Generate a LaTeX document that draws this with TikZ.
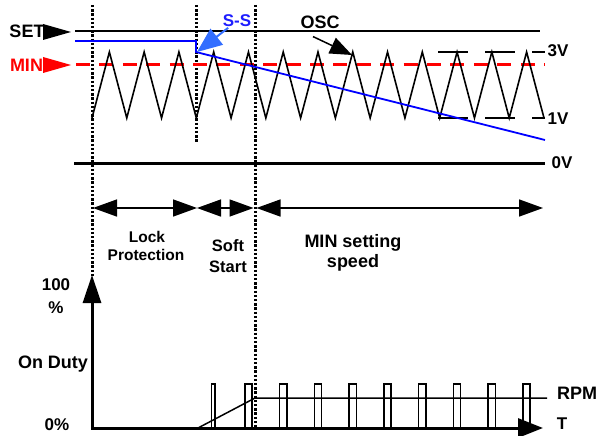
\documentclass[tikz,border=0pt]{standalone}
\usepackage{fontspec}
\setmainfont{Liberation Sans}
\usetikzlibrary{arrows.meta}
\definecolor{ssblue}{RGB}{30,30,255}
\definecolor{arrblue}{RGB}{51,110,255}
\begin{document}
\begin{tikzpicture}[x=1pt,y=-1pt,
  txt/.style={font=\bfseries\fontsize{#1}{#1}\selectfont, inner sep=0pt},
  txt/.default=17,
  dotline/.style={line width=3pt, dash pattern=on 2.4pt off 1.8pt},
  wave/.style={line width=1.6pt, line join=miter},
  lvl/.style={line width=2.6pt, dash pattern=on 30pt off 17pt},
  rng/.style={line width=1.5pt, {Triangle[length=24pt,width=17pt]}-{Triangle[length=24pt,width=17pt]}},
  pulse/.style={line width=1.5pt},
]
\useasboundingbox (0,0) rectangle (605,436);

% guide lines (dotted)
\draw[dotline] (92,5) -- (92,276);
\draw[dotline] (196,5) -- (196,143);
\draw[dotline] (255,5) -- (255,428);

% SET level
\node[txt=18, anchor=center] (set) at (27,31) {SET};
\fill[black] (43,24) -- (71,32) -- (43,40) -- cycle;
\draw[line width=2pt] (75,31) -- (540,31);

% MIN level
\node[txt=18, text=red, anchor=center] (min) at (26.5,65.5) {MIN};
\fill[red] (43,57) -- (71,65) -- (43,73) -- cycle;
\draw[red, line width=3pt, dash pattern=on 14pt off 9.4pt] (76,65) -- (545,65);

% oscillator triangle wave
\draw[wave] (92,118) foreach \k in {0,...,12} { -- ({109.38+34.769*\k},52) -- ({126.77+34.769*\k},118) };

% 3V / 1V limits
\draw[lvl] (438,52) -- (545,52);
\draw[lvl] (438,118) -- (545,118);
\node[txt=17] (v3) at (558,51) {3V};
\node[txt=17] (v1) at (558,118.5) {1V};

% soft start (blue)
\draw[blue, line width=1.8pt] (75,41) -- (196,41) -- (196,52) -- (545,140);
\node[txt=17, text=ssblue] (ss) at (237,21) {S-S};
\coordinate (sstip) at (197,52);
\draw[arrblue, line width=2pt, -{Triangle[length=25pt,width=20pt]}, shorten <=1pt] (ss) -- (sstip);

% OSC label
\node[txt=18] (osc) at (320,22) {OSC};
\coordinate (osctip) at (352,55);
\draw[line width=1.5pt, -{Triangle[length=22pt,width=17pt]}] ([shift={(-7,8)}]osc.south) -- (osctip);

% 0V
\draw[line width=3pt] (74,163) -- (545,163);
\node[txt=17] (v0) at (562,163) {0V};

% time ranges
\coordinate (a1) at (93,208);
\coordinate (a2) at (197,208);
\coordinate (a3) at (253.5,208);
\coordinate (a4) at (256.5,208);
\coordinate (a5) at (543,208);
\draw[rng] (a1) -- (a2);
\draw[rng] (a2) -- (a3);
\draw[rng] (a4) -- (a5);

\node[txt=15.5, anchor=base] (lock1) at (147,242) {Lock};
\node[txt=15.5, anchor=base] (lock2) at (146,260) {Protection};
\node[txt=16.5, anchor=base] (soft1) at (228,251) {Soft};
\node[txt=16.5, anchor=base] (soft2) at (228,272) {Start};
\node[txt=18, anchor=base] (ms1) at (353,247) {MIN setting};
\node[txt=18, anchor=base] (ms2) at (353,267) {speed};

% bottom axes
\draw[line width=3pt, {Triangle[length=28pt,width=18pt]}-{Triangle[length=25pt,width=19pt]}] (92,275) -- (92,428) -- (543,428);
\node[txt=17, anchor=base] (p100) at (56,290) {100};
\node[txt=17, anchor=base] (pct) at (56,313) {\%};
\node[txt=18, anchor=base] (duty) at (53,368) {On Duty};
\node[txt=17, anchor=base] (p0) at (57,430) {0\%};
\node[txt=18] (rpm) at (577,393.5) {RPM};
\node[txt=17] (tt) at (562,424) {T};

% ramp and RPM level
\draw[line width=1.5pt] (198,428) -- (255,398) -- (547,398);

% PWM pulses
\draw[pulse] (211.6,428) -- (211.6,384) -- (215.2,384) -- (215.2,428);
\foreach \k in {4,...,12} {
  \pgfmathsetmacro{\cx}{109.38+34.769*\k}
  \draw[pulse] ({\cx-3.6},428) -- ({\cx-3.6},384) -- ({\cx+3.6},384) -- ({\cx+3.6},428);
}
\end{tikzpicture}
\end{document}
